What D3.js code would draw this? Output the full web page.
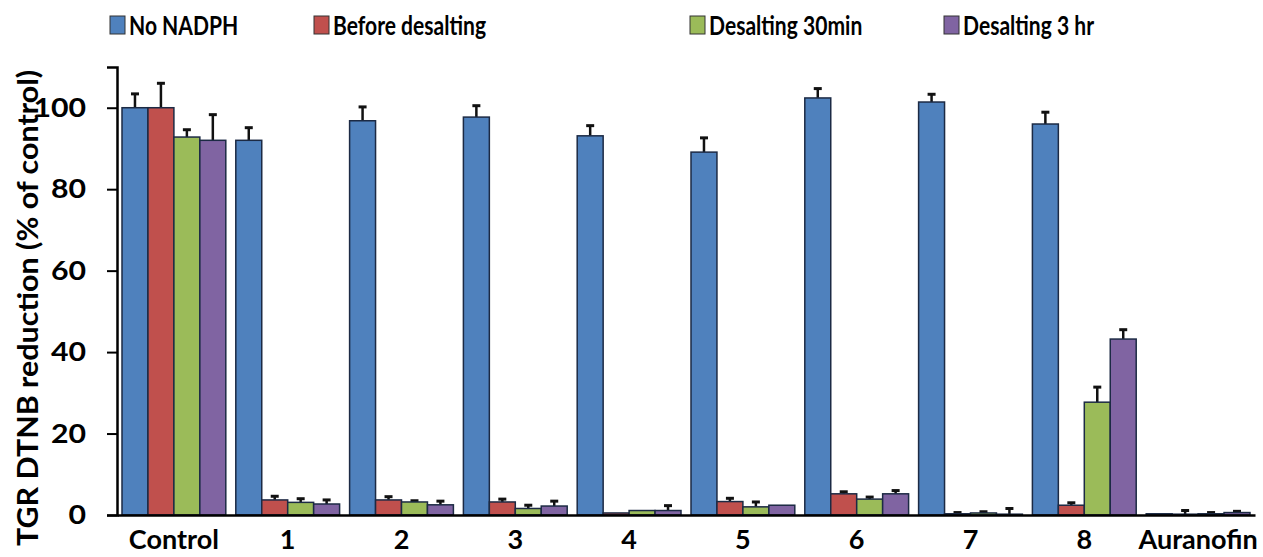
<!DOCTYPE html>
<html>
<head>
<meta charset="utf-8">
<script src="https://cdn.jsdelivr.net/npm/d3@7"></script>
<style>
  html, body { margin: 0; padding: 0; background: #fff; }
  svg text { font-family: Lato, "Open Sans", sans-serif; font-weight: bold; fill: #000; }
</style>
</head>
<body>
<div id="viz"></div>
<script>
/* global d3 */
const categories = ['Control', '1', '2', '3', '4', '5', '6', '7', '8', 'Auranofin'];
const seriesNames = ['No NADPH', 'Before desalting', 'Desalting 30min', 'Desalting 3 hr'];

const noNadph = [100, 92.0, 96.8, 97.7, 93.1, 89.1, 102.4, 101.4, 96.0, 0.3];
const noNadphErr = [3.4, 3.1, 3.4, 2.8, 2.5, 3.5, 2.3, 1.9, 2.9, 0];
const beforeDesalting = [100, 3.7, 3.7, 3.2, 0.5, 3.3, 5.2, 0.3, 2.4, 0.2];
const beforeDesaltingErr = [6.0, 0.9, 0.8, 0.7, 0, 0.8, 0.5, 0.3, 0.6, 0.9];
const desalting30 = [92.8, 3.1, 3.2, 1.6, 1.1, 2.0, 3.9, 0.5, 27.7, 0.3];
const desalting30Err = [1.8, 0.9, 0.3, 0.8, 0, 1.2, 0.5, 0.3, 3.7, 0.3];
const desalting3h = [92.0, 2.7, 2.5, 2.2, 1.1, 2.4, 5.2, 0.2, 43.2, 0.6];
const desalting3hErr = [6.3, 1.0, 0.9, 1.2, 1.2, 0, 0.8, 1.4, 2.3, 0.3];

const yTicks = [0, 20, 40, 60, 80, 100];
const yTitle = 'TGR DTNB reduction (% of control)';

const colors = ['#4F81BD', '#C0504D', '#9BBB59', '#8064A2'];
const values = [noNadph, beforeDesalting, desalting30, desalting3h];
const errors = [noNadphErr, beforeDesaltingErr, desalting30Err, desalting3hErr];

const width = 1263;
const height = 557;

// squeeze or stretch text horizontally (the original uses a narrow font)
const squeeze = function squeeze(sel, k) {
  sel.each(function fit() {
    const w = this.getComputedTextLength();
    d3.select(this)
      .attr('textLength', w * k)
      .attr('lengthAdjust', 'spacingAndGlyphs');
  });
};

const svg = d3.select('#viz').append('svg')
  .attr('width', width)
  .attr('height', height);

const xScale = d3.scaleBand()
  .domain(categories)
  .range([117, 1255]);

const subScale = d3.scaleBand()
  .domain(seriesNames)
  .range([5, xScale.bandwidth() - 5]);

const yScale = d3.scaleLinear()
  .domain([0, 110])
  .range([515, 67]);

const bars = [];
categories.forEach((c, i) => {
  seriesNames.forEach((s, j) => {
    bars.push({ cat: c, series: s, value: values[j][i], err: errors[j][i], color: colors[j] });
  });
});

const mid = d => xScale(d.cat) + subScale(d.series) + subScale.bandwidth() / 2;

const g = svg.append('g');

// error bars, plus direction only
const withErr = bars.filter(d => d.err > 0);
g.selectAll('line.err')
  .data(withErr)
  .enter()
  .append('line')
  .attr('class', 'err')
  .attr('x1', mid)
  .attr('x2', mid)
  .attr('y1', d => yScale(d.value))
  .attr('y2', d => yScale(d.value + d.err))
  .attr('stroke', '#111')
  .attr('stroke-width', 2.5);

g.selectAll('line.cap')
  .data(withErr)
  .enter()
  .append('line')
  .attr('class', 'cap')
  .attr('x1', d => mid(d) - 4)
  .attr('x2', d => mid(d) + 4)
  .attr('y1', d => yScale(d.value + d.err))
  .attr('y2', d => yScale(d.value + d.err))
  .attr('stroke', '#111')
  .attr('stroke-width', 3);

g.selectAll('rect.bar')
  .data(bars)
  .enter()
  .append('rect')
  .attr('class', 'bar')
  .attr('x', d => xScale(d.cat) + subScale(d.series))
  .attr('y', d => yScale(d.value))
  .attr('width', subScale.bandwidth())
  .attr('height', d => yScale(0) - yScale(d.value))
  .attr('fill', d => d.color)
  .attr('stroke', '#1c2a44')
  .attr('stroke-width', 1.5);

// y axis
const yAxis = d3.axisLeft(yScale)
  .tickValues(yTicks)
  .tickSize(10)
  .tickPadding(21);

const yAxisG = svg.append('g')
  .attr('transform', `translate(${xScale.range()[0]},0)`)
  .call(yAxis);
yAxisG.select('.domain').attr('stroke', '#000').attr('stroke-width', 2.5);
yAxisG.selectAll('.tick line').attr('stroke', '#000').attr('stroke-width', 2);
yAxisG.selectAll('.tick text')
  .style('font-size', '27px')
  .style('font-family', 'Lato, sans-serif')
  .style('font-weight', 'bold')
  .call(squeeze, 1.12);

// x axis
const xAxis = d3.axisBottom(xScale)
  .tickSize(0)
  .tickPadding(15);

const xAxisG = svg.append('g')
  .attr('transform', `translate(0,${yScale(0)})`)
  .call(xAxis);
xAxisG.select('.domain').attr('stroke', '#000').attr('stroke-width', 2.5);
xAxisG.selectAll('.tick text')
  .style('font-size', '27px')
  .style('font-family', 'Lato, sans-serif')
  .style('font-weight', 'bold');

// y title
svg.append('text')
  .attr('transform', 'translate(38,308) rotate(-90)')
  .attr('text-anchor', 'middle')
  .style('font-size', '29px')
  .text(yTitle)
  .call(squeeze, 1.05);

// legend
const legendX = [110, 314, 690, 944];
const legend = svg.append('g').selectAll('g.legend')
  .data(seriesNames)
  .enter()
  .append('g')
  .attr('class', 'legend')
  .attr('transform', (d, i) => `translate(${legendX[i]},0)`);

legend.append('rect')
  .attr('x', 0)
  .attr('y', 16)
  .attr('width', 15)
  .attr('height', 18)
  .attr('fill', (d, i) => colors[i])
  .attr('stroke', '#333')
  .attr('stroke-width', 1);

legend.append('text')
  .attr('x', 19)
  .attr('y', 35)
  .style('font-size', '26px')
  .text(d => d)
  .call(squeeze, 0.81);
</script>
</body>
</html>
